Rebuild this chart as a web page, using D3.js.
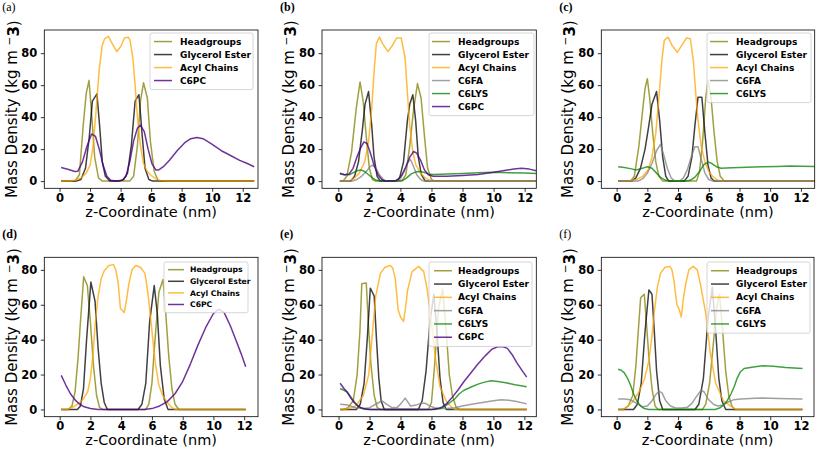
<!DOCTYPE html>
<html><head><meta charset="utf-8">
<script src="https://cdn.jsdelivr.net/npm/d3@7"></script>
<style>body{margin:0;background:#fff}</style>
</head><body><svg id="c" width="817" height="450" xmlns="http://www.w3.org/2000/svg"></svg>
<script>
// ---------- DATA ([z nm, density]) ----------
const xTicks = [0, 2, 4, 6, 8, 10, 12];
const yTicks = [0, 20, 40, 60, 80];
const seriesNames = ["Headgroups", "Glycerol Ester", "Acyl Chains", "C6FA", "C6LYS", "C6PC"];

// (a)
const aHead = [[0.1,0],[1.0,0],[1.3,4],[1.55,35],[1.75,55],[1.93,63],[2.1,42],[2.3,15],[2.55,2],[2.8,0],[4.6,0],[4.85,3],[5.1,22],[5.3,50],[5.5,61.5],[5.75,52],[5.95,25],[6.2,6],[6.45,0.5],[6.7,0],[12.75,0]];
const aGlyc = [[0.1,0],[1.1,0],[1.4,1],[1.7,8],[1.95,28],[2.15,50],[2.45,54.5],[2.62,35],[2.8,12],[3.0,3],[3.3,0],[3.9,0],[4.2,1],[4.45,5],[4.7,22],[4.95,50],[5.2,54],[5.4,30],[5.6,8],[5.85,1],[6.1,0],[12.75,0]];
const aAcyl = [[0.1,0],[0.6,0],[1.0,0.5],[1.4,2],[1.75,5],[2.0,10],[2.2,22],[2.4,45],[2.6,70],[2.8,85],[2.95,89],[3.2,90.5],[3.45,86],[3.75,81],[4.0,84],[4.25,89.5],[4.5,90],[4.62,88],[4.8,77],[4.95,60],[5.1,40],[5.3,22],[5.5,11],[5.75,6],[6.0,3.5],[6.3,1.5],[6.6,0.3],[6.9,0],[12.75,0]];
const aPC = [[0.1,8.5],[0.6,7.3],[1.0,6],[1.2,6.2],[1.5,12],[1.8,22],[2.1,29.5],[2.35,28],[2.6,20],[2.85,10],[3.1,3],[3.35,0.5],[3.7,0],[4.1,0.5],[4.35,3],[4.6,12],[4.85,25],[5.1,33],[5.3,35],[5.55,31],[5.8,20],[6.05,11],[6.3,7],[6.5,7],[6.8,9],[7.2,13],[7.7,19],[8.2,24],[8.6,26.5],[9.0,27.2],[9.4,26.5],[10.0,23],[10.6,19],[11.2,16],[11.8,13],[12.3,11],[12.75,9]];

// (b)
const bHead = [[0.1,0],[0.3,0],[0.55,3],[0.85,18],[1.15,45],[1.4,62],[1.6,50],[1.8,28],[2.0,8],[2.2,1],[2.4,0],[4.1,0],[4.35,4],[4.6,22],[4.85,45],[5.1,61],[5.33,52],[5.55,28],[5.75,8],[6.0,1],[6.2,0],[12.75,0]];
const bGlyc = [[0.1,0],[0.8,0],[1.05,3],[1.3,12],[1.55,32],[1.72,48],[1.95,56],[2.15,35],[2.3,15],[2.5,3],[2.7,0],[3.7,0],[3.95,2],[4.2,12],[4.45,38],[4.6,48],[4.8,54],[4.98,38],[5.15,15],[5.35,4],[5.6,0],[12.75,0]];
const bAcyl = [[0.1,0],[0.6,0],[1.0,1.5],[1.35,5],[1.7,12],[1.95,25],[2.15,45],[2.3,68],[2.45,86],[2.65,90],[2.85,86],[3.2,81],[3.5,85],[3.75,89.5],[4.05,89.5],[4.2,82],[4.3,77],[4.45,55],[4.6,35],[4.8,18],[5.0,10],[5.3,5],[5.6,2],[5.9,0.5],[6.1,0],[12.75,0]];
const bFA = [[0.1,0],[0.9,0],[1.2,1],[1.5,3],[1.8,6],[2.05,9],[2.2,10],[2.4,8.5],[2.65,4],[2.9,1],[3.1,0],[3.8,0],[4.0,1.5],[4.25,6],[4.5,12],[4.65,13.5],[4.85,9],[5.05,4],[5.3,1],[5.5,0],[12.75,0]];
const bLYS = [[0.1,4.5],[0.4,4],[0.7,4],[1.0,5.5],[1.2,6.5],[1.45,7],[1.7,6],[1.95,4],[2.2,2],[2.45,0.5],[2.7,0],[3.9,0],[4.15,0.5],[4.4,2],[4.7,4.5],[5.0,5.8],[5.25,6],[5.5,5.5],[5.8,4.5],[6.1,4.2],[7,4.5],[8,4.8],[9,5.2],[10,5.5],[11,5.3],[12,5],[12.75,4.8]];
const bPC = [[0.1,5],[0.4,4],[0.7,4.5],[0.95,8],[1.2,15],[1.45,21],[1.65,24.5],[1.85,23.5],[2.05,18],[2.3,10],[2.55,4],[2.8,1],[3.05,0],[3.6,0],[3.85,1],[4.1,4],[4.35,9],[4.6,15],[4.85,18.5],[5.05,17.5],[5.3,13],[5.55,7],[5.8,4],[6.1,3],[6.5,3],[7,3],[8,3.5],[9,4.2],[10,5.5],[10.8,6.8],[11.3,7.6],[11.8,8],[12.3,7.5],[12.75,6.5]];

// (c)
const cHead = [[0.1,0],[0.9,0],[1.15,3],[1.45,22],[1.7,45],[1.85,58],[2.0,64],[2.15,52],[2.35,30],[2.55,12],[2.75,3],[3.0,0],[5.2,0],[5.4,6],[5.6,25],[5.8,52],[5.95,63],[6.15,52],[6.35,30],[6.55,12],[6.75,3],[7.0,0],[12.9,0]];
const cGlyc = [[0.1,0],[1.0,0],[1.25,2],[1.55,8],[1.85,20],[2.1,35],[2.3,48],[2.6,56],[2.8,38],[3.0,15],[3.2,3],[3.4,0],[4.4,0],[4.65,3],[4.9,15],[5.1,35],[5.3,52.5],[5.55,52.5],[5.75,30],[5.95,10],[6.15,2],[6.35,0],[12.9,0]];
const cAcyl = [[0.1,0],[0.8,0],[1.3,1],[1.7,3],[2.05,7],[2.3,15],[2.55,30],[2.75,52],[2.95,76],[3.1,88],[3.35,90],[3.6,85],[3.95,80.5],[4.25,85],[4.55,89.5],[4.8,89],[5.0,75],[5.15,55],[5.3,38],[5.5,22],[5.75,12],[6.0,6],[6.3,2.5],[6.6,0.5],[6.9,0],[12.9,0]];
const cFA = [[0.1,0],[1.4,0],[1.7,1.5],[2.0,5],[2.3,11],[2.6,19],[2.85,23],[3.05,17],[3.3,8],[3.55,2],[3.8,0],[4.1,0],[4.35,2],[4.6,7],[4.85,15],[5.1,21.5],[5.3,21.5],[5.5,14],[5.75,5],[6.0,1],[6.25,0],[12.9,0]];
const cLYS = [[0.1,9],[0.5,8.5],[0.9,7.8],[1.25,7],[1.6,7.8],[2.0,9],[2.3,8],[2.6,5],[2.9,2],[3.2,0.5],[3.5,0],[4.5,0],[4.8,0.5],[5.1,2.5],[5.4,6],[5.65,10],[5.95,12],[6.2,11],[6.5,9],[6.8,8],[7.5,8.3],[8.5,8.6],[9.5,8.9],[10.5,9.2],[11.3,9.5],[12,9.3],[12.9,9.1]];

// (d)
const dHead = [[0.1,0],[0.55,0],[0.8,2],[1.0,10],[1.2,30],[1.35,50],[1.56,76],[1.8,71],[2.0,50],[2.2,25],[2.4,8],[2.6,1],[2.8,0],[5.6,0],[5.8,3],[6.0,15],[6.2,40],[6.45,67],[6.72,74.5],[6.9,55],[7.1,30],[7.3,12],[7.5,3],[7.75,0],[12.1,0]];
const dGlyc = [[0.1,0],[1.15,0],[1.35,2],[1.55,12],[1.75,40],[2.03,73],[2.3,62],[2.5,35],[2.7,15],[2.9,4],[3.1,0],[5.1,0],[5.35,3],[5.6,15],[5.85,50],[6.15,71],[6.35,55],[6.55,25],[6.8,6],[7.05,0],[12.1,0]];
const dAcyl = [[0.1,0],[0.5,0],[1.0,2],[1.45,5],[1.82,10],[2.0,18],[2.15,30],[2.32,50],[2.5,65],[2.7,75],[2.9,79.5],[3.2,82.5],[3.5,83],[3.65,80],[3.8,73],[3.95,58],[4.2,55.5],[4.35,63],[4.5,72],[4.7,80],[4.95,82.5],[5.25,81.5],[5.55,78],[5.75,66],[6.0,45],[6.2,28],[6.45,14],[6.7,8],[7.0,4],[7.3,1],[7.6,0],[12.1,0]];
const dPC = [[0.1,19.5],[0.4,14],[0.7,9],[1.0,5.5],[1.3,3],[1.6,1.5],[2.0,0.5],[2.5,0],[5.5,0],[6.0,0.5],[6.5,2],[7.0,4.5],[7.5,9],[8.0,16],[8.5,26],[9.0,37],[9.5,47],[10.0,55],[10.35,57.5],[10.7,55.5],[11.1,48],[11.5,39],[11.8,32],[12.1,24.5]];

// (e)
const eHead = [[0.1,0],[0.3,0],[0.6,1],[0.95,5],[1.2,20],[1.38,45],[1.5,72],[1.79,72.5],[1.95,45],[2.1,25],[2.3,8],[2.5,1],[2.7,0],[5.8,0],[6.0,4],[6.2,25],[6.45,58],[6.72,69],[6.95,45],[7.15,20],[7.35,8],[7.6,1],[7.8,0],[12.15,0]];
const eGlyc = [[0.1,0],[1.15,0],[1.4,3],[1.65,15],[1.85,40],[2.05,69.5],[2.3,65],[2.45,40],[2.6,18],[2.75,5],[2.95,0],[5.15,0],[5.4,5],[5.65,22],[5.9,50],[6.15,66],[6.35,45],[6.55,18],[6.75,4],[6.95,0],[12.15,0]];
const eAcyl = [[0.1,0],[0.35,0],[0.8,1],[1.1,2],[1.6,8],[1.95,20],[2.2,45],[2.4,65],[2.7,78],[3.0,81.5],[3.34,82.5],[3.5,81],[3.66,75],[3.85,57],[4.0,53],[4.2,50.5],[4.35,60],[4.45,68],[4.75,79],[5.17,82],[5.5,79],[5.7,70],[5.93,55],[6.25,30],[6.55,13],[7.0,4],[7.4,0.5],[7.6,0],[12.15,0]];
const eFA = [[0.1,3],[0.6,2.5],[1.1,1],[1.6,0.5],[2.0,1],[2.4,3],[2.8,5],[3.1,3],[3.45,1],[3.8,1.2],[4.05,3.5],[4.3,6.5],[4.65,2],[5.0,2.5],[5.3,3.5],[5.6,3.5],[5.9,2],[6.2,1],[6.6,0.5],[7.0,0.5],[7.5,1],[8.0,2],[8.5,2.8],[9.0,3.5],[9.5,4.3],[10.0,5],[10.5,5.5],[11.0,5.3],[11.5,4.5],[12.15,3.2]];
const eLYS = [[0.1,12],[0.35,11],[0.55,10],[0.8,7],[1.05,4],[1.3,1.5],[1.6,0.3],[1.9,0],[6.2,0],[6.6,0.5],[6.9,2],[7.2,4],[7.5,6],[7.8,9],[8.1,11],[8.6,13],[9.1,14.8],[9.5,15.8],[9.85,16.5],[10.3,16],[10.8,15.3],[11.4,14.2],[12.15,13]];
const ePC = [[0.1,15],[0.35,12],[0.55,10],[0.8,6.5],[1.0,4],[1.25,2],[1.5,0.8],[1.8,0.2],[2.1,0],[6.0,0],[6.4,0.5],[6.7,1.5],[7.0,3.5],[7.3,6.5],[7.7,11],[8.1,16],[8.5,20.5],[9.0,26],[9.5,31],[9.9,34.5],[10.3,36],[10.6,36],[10.9,35],[11.2,31.5],[11.5,27],[11.8,23],[12.15,18.5]];

// (f)
const fHead = [[0.1,0],[0.45,0],[0.75,2],[1.05,8],[1.25,25],[1.45,50],[1.56,64],[1.8,66],[1.95,48],[2.1,30],[2.3,12],[2.5,2],[2.7,0],[5.6,0],[5.8,3],[6.05,15],[6.3,38],[6.5,58],[6.7,66],[6.9,45],[7.1,22],[7.3,8],[7.5,2],[7.7,0],[12.1,0]];
const fGlyc = [[0.1,0],[1.1,0],[1.35,3],[1.6,15],[1.85,45],[2.1,68.5],[2.3,66],[2.45,45],[2.6,22],[2.8,5],[3.0,0],[5.1,0],[5.35,3],[5.65,18],[5.95,52],[6.23,70],[6.45,45],[6.65,18],[6.85,5],[7.1,0],[12.1,0]];
const fAcyl = [[0.1,0],[0.45,0],[1.0,4],[1.45,10],[1.8,17],[2.1,28],[2.3,42],[2.45,56],[2.65,70],[2.85,78],[3.15,81.5],[3.47,82],[3.6,80],[3.73,74],[3.92,60],[4.05,58],[4.21,53],[4.35,64],[4.5,72],[4.7,80],[4.99,82],[5.25,80],[5.45,72],[5.8,55],[6.1,32],[6.45,15],[6.95,5],[7.4,2],[7.75,0],[12.1,0]];
const fFA = [[0.1,6],[0.5,6],[0.9,5.5],[1.3,3.5],[1.7,1.5],[2.0,2],[2.3,5],[2.55,8.5],[2.75,10.5],[2.95,9.5],[3.2,5],[3.5,2],[3.8,1],[4.2,0.8],[4.6,1.2],[4.9,3.5],[5.2,7.5],[5.5,11],[5.7,10],[5.95,6],[6.3,3],[6.6,2],[6.9,2.5],[7.2,4],[7.6,5.5],[8.1,6],[9.0,6.4],[9.5,6.5],[10.5,6.3],[11.3,6.1],[12.1,6]];
const fLYS = [[0.1,23],[0.3,22.5],[0.5,21],[0.7,18],[0.9,14],[1.1,9],[1.3,5],[1.55,2],[1.8,0.5],[2.1,0],[6.4,0],[6.7,0.8],[6.95,2.5],[7.2,5],[7.45,9],[7.65,13],[7.85,18],[8.05,21.5],[8.3,23.5],[8.8,24.2],[9.5,25],[10.2,24.7],[11,24],[12.1,23.5]];

// ---------- STYLE / LAYOUT ----------
const colors = {"Headgroups":"olive","Glycerol Ester":"#000000","Acyl Chains":"orange","C6FA":"gray","C6LYS":"green","C6PC":"#4b0082"};

const panels = [
  {label:"(a)", bold:false, fx:[44.3,258], fy:[30,188.3], xd:[-1,13], yd:[-4.5,94.5], ylx:11.5,
   data:{"Headgroups":aHead,"Glycerol Ester":aGlyc,"Acyl Chains":aAcyl,"C6PC":aPC},
   lg:{x:150,y:33,w:103,fs:9,sp:13,h0:4,h1:22,tx:30}},
  {label:"(b)", bold:true, fx:[322,536.3], fy:[30,188.3], xd:[-1.05,12.75], yd:[-4.5,94.5], ylx:288.5,
   data:{"Headgroups":bHead,"Glycerol Ester":bGlyc,"Acyl Chains":bAcyl,"C6FA":bFA,"C6LYS":bLYS,"C6PC":bPC},
   lg:{x:429,y:33,w:105,fs:9,sp:13,h0:3,h1:21,tx:29}},
  {label:"(c)", bold:true, fx:[601.3,814.7], fy:[30,188.3], xd:[-1,12.9], yd:[-4.5,94.5], ylx:568,
   data:{"Headgroups":cHead,"Glycerol Ester":cGlyc,"Acyl Chains":cAcyl,"C6FA":cFA,"C6LYS":cLYS},
   lg:{x:707,y:33,w:104,fs:9,sp:13,h0:3,h1:21,tx:29}},
  {label:"(d)", bold:true, fx:[44.3,258], fy:[257.3,416.7], xd:[-1,12.9], yd:[-4.15,87.2], ylx:11.5,
   data:{"Headgroups":dHead,"Glycerol Ester":dGlyc,"Acyl Chains":dAcyl,"C6PC":dPC},
   lg:{x:164,y:262,w:84,fs:7.7,sp:11.6,h0:4,h1:20,tx:26}},
  {label:"(e)", bold:true, fx:[322,536.3], fy:[257.3,416.7], xd:[-1.07,12.77], yd:[-4.15,87.2], ylx:288.5,
   data:{"Headgroups":eHead,"Glycerol Ester":eGlyc,"Acyl Chains":eAcyl,"C6FA":eFA,"C6LYS":eLYS,"C6PC":ePC},
   lg:{x:429,y:262,w:103,fs:9,sp:13.3,h0:5,h1:23,tx:29}},
  {label:"(f)", bold:false, fx:[601.3,814], fy:[257.3,416.7], xd:[-1,12.85], yd:[-4.15,87.2], ylx:567.5,
   data:{"Headgroups":fHead,"Glycerol Ester":fGlyc,"Acyl Chains":fAcyl,"C6FA":fFA,"C6LYS":fLYS},
   lg:{x:707,y:262,w:103,fs:9,sp:13.3,h0:4,h1:22,tx:29}}
];

const svg = d3.select("#c");
svg.append("rect").attr("width",817).attr("height",450).attr("fill","#fff");
const SANS = "'DejaVu Sans', sans-serif";

panels.forEach((p, i) => {
  const x = d3.scaleLinear().domain(p.xd).range(p.fx);
  const y = d3.scaleLinear().domain(p.yd).range([p.fy[1], p.fy[0]]);
  const g = svg.append("g");
  const clipId = "clip" + i;
  svg.append("clipPath").attr("id", clipId).append("rect")
    .attr("x", p.fx[0]).attr("y", p.fy[0])
    .attr("width", p.fx[1]-p.fx[0]).attr("height", p.fy[1]-p.fy[0]);

  // lines
  const line = d3.line().x(d => x(d[0])).y(d => y(d[1]));
  const lg = g.append("g").attr("clip-path", `url(#${clipId})`);
  seriesNames.forEach(name => {
    if (!p.data[name]) return;
    lg.append("path").datum(p.data[name])
      .attr("d", line).attr("fill","none")
      .attr("stroke", colors[name]).attr("stroke-opacity", name === "C6PC" ? 0.8 : 0.75)
      .attr("stroke-width", 1.5).attr("stroke-linejoin","round");
  });

  // axes
  const xa = g.append("g").attr("transform", `translate(0,${p.fy[1]})`)
    .call(d3.axisBottom(x).tickValues(xTicks).tickSize(3.5).tickPadding(2).tickFormat(d3.format("d")));
  const ya = g.append("g").attr("transform", `translate(${p.fx[0]},0)`)
    .call(d3.axisLeft(y).tickValues(yTicks).tickSize(3.5).tickPadding(3.5).tickFormat(d3.format("d")));
  [xa, ya].forEach(a => {
    a.select(".domain").remove();
    a.selectAll("line").attr("stroke","#000").attr("stroke-width",0.8);
    a.selectAll("text").attr("font-family", SANS).attr("font-weight","bold").attr("font-size",11.5).attr("fill","#000");
  });
  // frame
  g.append("rect").attr("x", p.fx[0]).attr("y", p.fy[0])
    .attr("width", p.fx[1]-p.fx[0]).attr("height", p.fy[1]-p.fy[0])
    .attr("fill","none").attr("stroke","#000").attr("stroke-width",0.8);

  // axis titles
  const xc = (p.fx[0]+p.fx[1])/2, yc = (p.fy[0]+p.fy[1])/2;
  g.append("text").attr("x", xc).attr("y", p.fy[1] + 28.3)
    .attr("text-anchor","middle").attr("font-family", SANS).attr("font-size",14.5)
    .text("z-Coordinate (nm)");
  const yt = g.append("text").attr("transform", `translate(${p.ylx},${yc}) rotate(-90)`)
    .attr("text-anchor","middle").attr("dy","0.36em").attr("font-family", SANS).attr("font-size",15);
  yt.append("tspan").text("Mass Density (kg m ");
  yt.append("tspan").attr("dy","-0.4em").attr("font-size",10.5).text("\u2212");
  yt.append("tspan").attr("dy","0.4em").attr("font-weight","bold").text("3");
  yt.append("tspan").text(")");

  // panel label
  g.append("text").attr("x", p.fx[0] - 42).attr("y", p.fy[0] - 19.5)
    .attr("font-family","'Liberation Serif', serif").attr("font-size",12)
    .attr("font-weight", p.bold ? "bold" : "normal").text(p.label);

  // legend
  const L = p.lg;
  const names = seriesNames.filter(n => p.data[n]);
  const leg = g.append("g");
  leg.append("rect").attr("x", L.x).attr("y", L.y).attr("width", L.w)
    .attr("height", (names.length-1)*L.sp + L.sp*1.2 + 2)
    .attr("rx",2).attr("fill","#fff").attr("fill-opacity",0.8)
    .attr("stroke","#cccccc").attr("stroke-width",0.8);
  names.forEach((n, k) => {
    const cy = L.y + 0.62*L.sp + 0.5 + k*L.sp;
    leg.append("line").attr("x1", L.x + L.h0).attr("x2", L.x + L.h1)
      .attr("y1", cy).attr("y2", cy)
      .attr("stroke", colors[n]).attr("stroke-opacity", n === "C6PC" ? 0.8 : 0.75).attr("stroke-width",1.5);
    leg.append("text").attr("x", L.x + L.tx).attr("y", cy).attr("dy","0.35em")
      .attr("font-family", SANS).attr("font-weight","bold").attr("font-size", L.fs).text(n);
  });
});
</script>
</body></html>
